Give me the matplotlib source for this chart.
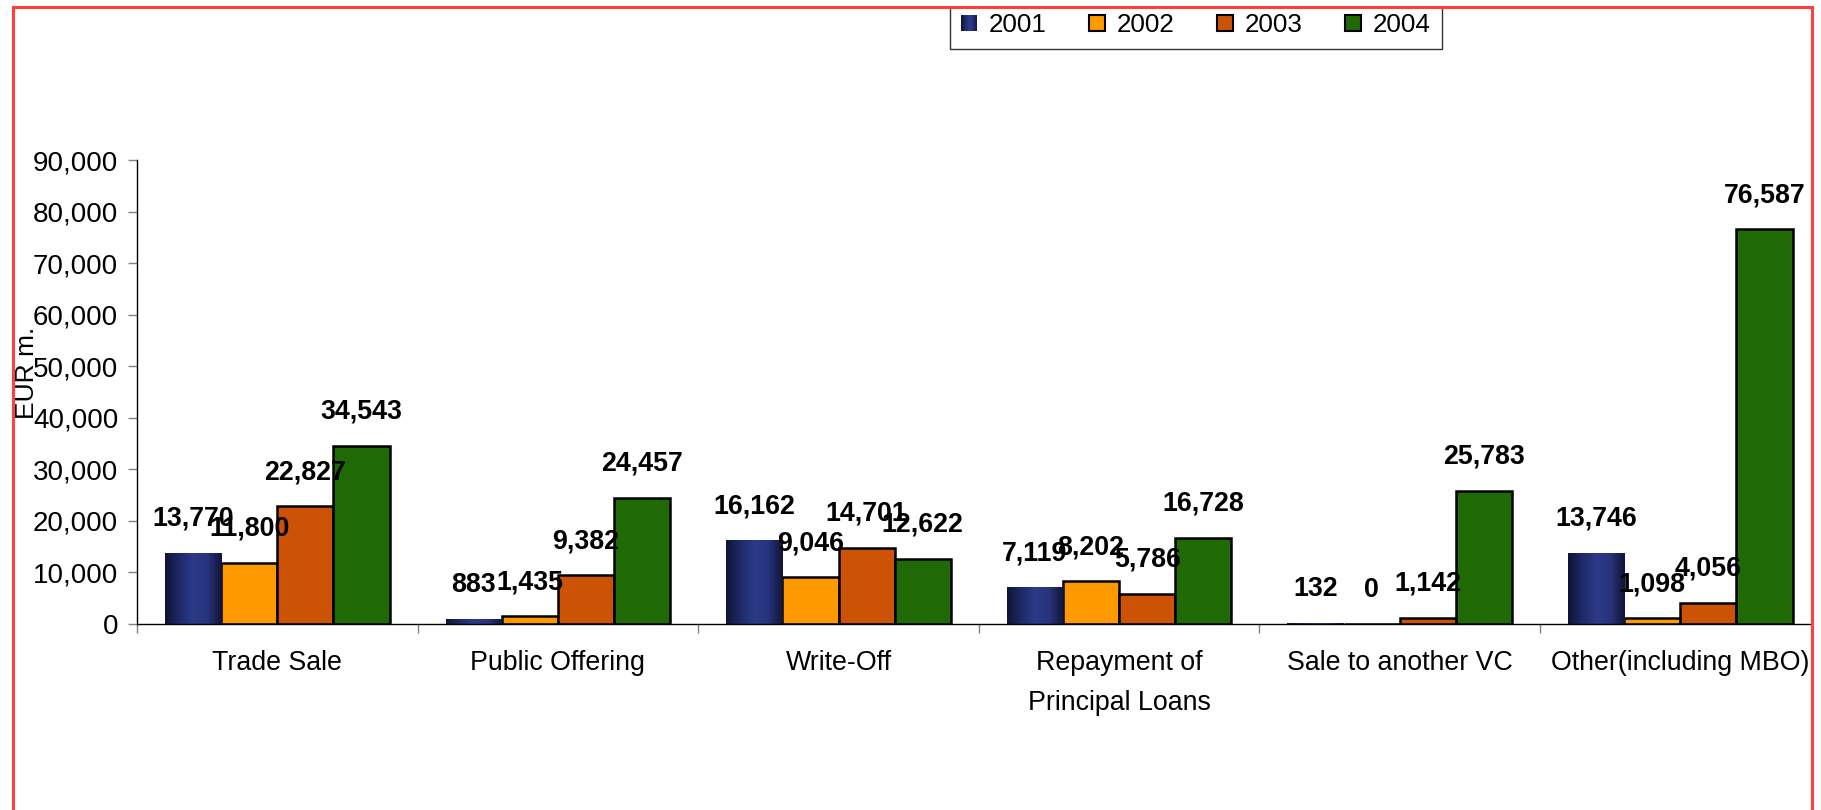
import matplotlib
matplotlib.use("Agg")
import matplotlib.pyplot as plt
import numpy as np
from matplotlib.colors import LinearSegmentedColormap
from matplotlib.lines import Line2D
from matplotlib.patches import Rectangle, Patch
from matplotlib.legend_handler import HandlerBase
from matplotlib.ticker import FuncFormatter, FixedLocator

plt.rcParams['font.family'] = ['Liberation Sans', 'DejaVu Sans']

categories = ["Trade Sale", "Public Offering", "Write-Off",
              "Repayment of\nPrincipal Loans", "Sale to another VC",
              "Other(including MBO)"]
years = ["2001", "2002", "2003", "2004"]
v2001 = [13770, 883, 16162, 7119, 132, 13746]
v2002 = [11800, 1435, 9046, 8202, 0, 1098]
v2003 = [22827, 9382, 14701, 5786, 1142, 4056]
v2004 = [34543, 24457, 12622, 16728, 25783, 76587]
series = [v2001, v2002, v2003, v2004]
y_ticks = [0, 10000, 20000, 30000, 40000, 50000, 60000, 70000, 80000, 90000]

colors = ["#26317a", "#ff9900", "#cc5206", "#1f6a04"]
grad_cmap = LinearSegmentedColormap.from_list(
    "navy_cyl", ["#0f1434", "#1f2a68", "#2c3a88", "#27337c", "#101538"])

W, H, DPI = 1821, 810, 100
fig = plt.figure(figsize=(W / DPI, H / DPI), dpi=DPI)
fig.patch.set_facecolor("white")

left_px, right_px, top_px, base_px = 137, 1811, 160.3, 623.7
ax = fig.add_axes([left_px / W, 1 - base_px / H,
                   (right_px - left_px) / W, (base_px - top_px) / H])

x = np.arange(len(categories))
bw = 0.2
offsets = [-1.5 * bw, -0.5 * bw, 0.5 * bw, 1.5 * bw]

for i, (vals, col) in enumerate(zip(series, colors)):
    if i == 0:
        bars = ax.bar(x + offsets[i], vals, bw, color=col, linewidth=0, zorder=2)
        grad = np.linspace(0, 1, 64).reshape(1, -1)
        for b in bars:
            x0, w_, h_ = b.get_x(), b.get_width(), b.get_height()
            if h_ <= 0:
                continue
            im = ax.imshow(grad, cmap=grad_cmap, aspect="auto",
                           extent=[x0, x0 + w_, 0, h_], zorder=2.1,
                           interpolation="bilinear")
            im.set_clip_path(b)
    else:
        bars = ax.bar(x + offsets[i], vals, bw, color=col, edgecolor="black",
                      linewidth=1.8, zorder=2)
    for xi, v in zip(x + offsets[i], vals):
        ax.annotate(f"{v:,}", (xi, v), xytext=(0, 24.5), textcoords="offset points",
                    ha="center", va="center", fontsize=19.3, fontweight="bold",
                    color="black", zorder=5)

ax.set_xlim(-0.5, -0.5 + (right_px - left_px) / 280.6)
ax.set_ylim(0, 90000)

ax.set_yticks(y_ticks)
ax.yaxis.set_major_formatter(FuncFormatter(lambda v, p: f"{int(v):,}"))
ax.tick_params(axis="y", length=6.5, width=1, color="#808080", pad=7,
               labelsize=20)

ax.set_xticks(x)
ax.set_xticklabels(categories, fontsize=19.3, linespacing=1.7)
ax.xaxis.set_minor_locator(FixedLocator(np.arange(-0.5, 6.0, 1.0)))
ax.tick_params(axis="x", which="major", length=0, pad=19)
ax.tick_params(axis="x", which="minor", length=6.5, width=1, color="#808080")

for s in ("top", "right"):
    ax.spines[s].set_visible(False)
ax.spines["left"].set_color("black")
ax.spines["bottom"].set_color("black")
ax.spines["left"].set_linewidth(1)
ax.spines["bottom"].set_linewidth(1)

fig.text(27 / W, 1 - 373 / H, "EUR m.", rotation=90, ha="center", va="center",
         fontsize=19)


class GradientHandler(HandlerBase):
    def create_artists(self, legend, orig_handle, xdescent, ydescent,
                       width, height, fontsize, trans):
        n = 12
        arts = []
        for k in range(n):
            c = grad_cmap((k + 0.5) / n)
            r = Rectangle((-xdescent + k * width / n, -ydescent), width / n + 0.3,
                          height, facecolor=c, edgecolor="none", transform=trans)
            arts.append(r)
        return arts


class GradProxy:
    pass


handles = [GradProxy()] + [Patch(facecolor=c, edgecolor="black", linewidth=1.5)
                           for c in colors[1:]]
leg = fig.legend(handles, years, loc="center",
                 bbox_to_anchor=(1196 / W, 1 - 25 / H), ncol=4, fontsize=18.7,
                 frameon=True, fancybox=False, handlelength=0.6, handleheight=0.6,
                 handletextpad=0.45, columnspacing=1.65, borderpad=0.45,
                 handler_map={GradProxy: GradientHandler()})
leg.get_frame().set_edgecolor("black")
leg.get_frame().set_linewidth(1)

# Red frame around the chart
red = "#ff4040"
fig.add_artist(Rectangle((1813 / W, 0), 1 - 1813 / W, 1, transform=fig.transFigure,
                         facecolor="white", edgecolor="none", zorder=10))
fig.add_artist(Rectangle((0, 1 - 6 / H), 1, 6 / H, transform=fig.transFigure,
                         facecolor="white", edgecolor="none", zorder=10))
fig.add_artist(Line2D([12.5 / W, 12.5 / W], [0, 1 - 7 / H], transform=fig.transFigure,
                      color=red, linewidth=2.2, zorder=11))
fig.add_artist(Line2D([1812 / W, 1812 / W], [0, 1 - 7 / H], transform=fig.transFigure,
                      color=red, linewidth=2.2, zorder=11))
fig.add_artist(Line2D([12.5 / W, 1812 / W], [1 - 7 / H, 1 - 7 / H],
                      transform=fig.transFigure, color=red, linewidth=2.2, zorder=11))

fig.savefig("out.png", dpi=DPI)
